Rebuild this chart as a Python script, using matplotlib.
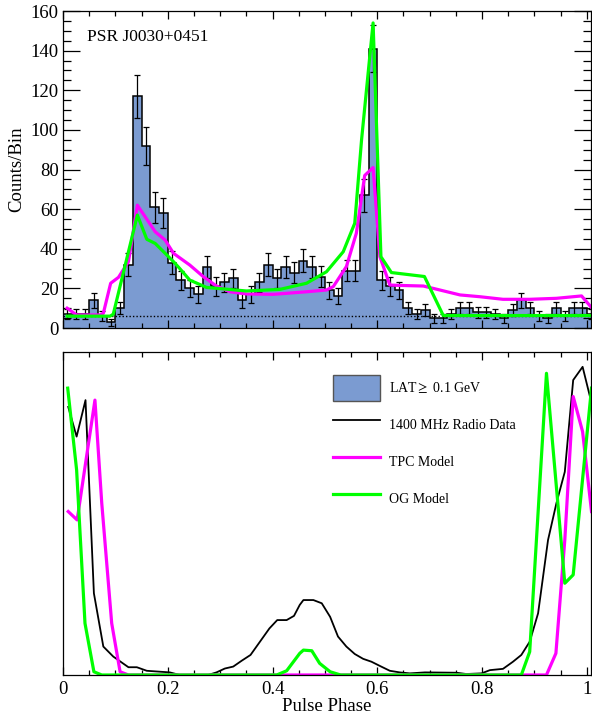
from matplotlib import pyplot as plt
from matplotlib.patches import Patch
from matplotlib.lines import Line2D
import numpy as np

plt.rcParams['font.family'] = ['Liberation Serif', 'DejaVu Serif']
plt.rcParams['mathtext.fontset'] = 'stix'

# LAT counts per bin (60 bins over one rotation)
counts = np.array([7, 7, 7, 14, 6, 3, 10, 32, 117, 92,
                   61, 58, 33, 24, 20, 17, 31, 21, 23, 25,
                   14, 17, 23, 32, 25, 31, 28, 34, 31, 26,
                   19, 16, 29, 29, 67, 141, 24, 21, 19, 10,
                   7, 9, 5, 5, 7, 10, 10, 8, 8, 7,
                   5, 9, 14, 10, 6, 5, 10, 6, 10, 10])
background = 6.3

# model light curves, top panel (counts/bin)
tpc_phase = [0.008, 0.026, 0.07, 0.077, 0.091, 0.106, 0.125, 0.142, 0.176, 0.195,
             0.211, 0.242, 0.268, 0.293, 0.319, 0.35, 0.401, 0.465, 0.503, 0.516,
             0.541, 0.56, 0.576, 0.592, 0.605, 0.624, 0.643, 0.688, 0.707, 0.758,
             0.796, 0.84, 0.891, 0.942, 0.99, 1.01]
tpc_counts = [10, 6.6, 6.6, 7.4, 22.6, 25.6, 33.5, 62, 48.6, 44.4,
              37.7, 31.8, 25.9, 21.2, 18.3, 17.2, 17, 18.3, 19.2, 20.9,
              31, 47.8, 77, 81, 36, 21.7, 21.5, 21.2, 20, 16.7,
              15.8, 14.5, 14.5, 15, 16.2, 10]

og_phase = [0.008, 0.09, 0.096, 0.142, 0.16, 0.176, 0.211, 0.223, 0.242, 0.274,
            0.35, 0.414, 0.465, 0.503, 0.535, 0.557, 0.57, 0.592, 0.607, 0.627,
            0.69, 0.726, 1.01]
og_counts = [6, 6, 7, 57, 44.8, 42.7, 33.5, 30, 24.2, 20.5,
             18.7, 19.5, 22.6, 28.4, 38.5, 52.9, 95, 154, 36, 28,
             26, 6.3, 6.3]

# bottom panel, normalised profiles
radio_phase = [0.010, 0.026, 0.043, 0.059, 0.077, 0.096, 0.125, 0.141, 0.16, 0.204,
               0.223, 0.277, 0.293, 0.309, 0.325, 0.341, 0.358, 0.376, 0.394, 0.409,
               0.427, 0.441, 0.452, 0.459, 0.478, 0.494, 0.51, 0.525, 0.541, 0.557,
               0.573, 0.589, 0.605, 0.624, 0.643, 0.662, 0.691, 0.751, 0.77, 0.799,
               0.815, 0.84, 0.859, 0.875, 0.891, 0.907, 0.926, 0.942, 0.958, 0.974,
               0.992, 1.006]
radio_flux = [0.83, 0.738, 0.851, 0.253, 0.088, 0.057, 0.024, 0.024, 0.013, 0.008,
              0.0, 0.0, 0.008, 0.02, 0.026, 0.044, 0.062, 0.103, 0.144, 0.17,
              0.17, 0.183, 0.217, 0.232, 0.232, 0.222, 0.18, 0.119, 0.088, 0.065,
              0.05, 0.041, 0.028, 0.013, 0.008, 0.005, 0.008, 0.007, 0.003, 0.005,
              0.015, 0.019, 0.041, 0.062, 0.103, 0.191, 0.418, 0.532, 0.629, 0.913,
              0.954, 0.862]

tpc2_phase = [0.010, 0.027, 0.061, 0.074, 0.093, 0.109, 0.125, 0.923, 0.941, 0.958,
              0.974, 0.992, 1.009]
tpc2_flux = [0.506, 0.48, 0.851, 0.532, 0.16, 0.01, 0.0, 0.0, 0.067, 0.418,
             0.862, 0.753, 0.506]

og2_phase = [0.009, 0.026, 0.042, 0.059, 0.074, 0.408, 0.427, 0.452, 0.459, 0.475,
             0.49, 0.51, 0.53, 0.875, 0.891, 0.923, 0.958, 0.974, 1.009]
og2_flux = [0.888, 0.635, 0.16, 0.01, 0.0, 0.0, 0.013, 0.067, 0.077, 0.075,
            0.036, 0.01, 0.0, 0.0, 0.072, 0.934, 0.284, 0.31, 0.888]

hist_color = '#7b9bd1'
tpc_color = '#ff00ff'
og_color = '#00ff00'

fig = plt.figure(figsize=(5.92, 7.17), dpi=100)
ax1 = fig.add_axes([0.1064, 0.5425, 0.8919, 0.4421])
ax2 = fig.add_axes([0.1064, 0.0586, 0.8919, 0.4505])

nb = len(counts)
c_wrap = np.concatenate([counts, counts[:1]])
edges = np.arange(nb + 2) / nb
centers = (edges[:-1] + edges[1:]) / 2

ax1.stairs(c_wrap, edges, fill=True, color=hist_color, lw=0)
ax1.stairs(c_wrap, edges, baseline=None, color='k', lw=1.1)
ax1.errorbar(centers, c_wrap, yerr=np.sqrt(c_wrap), fmt='none', ecolor='k',
             elinewidth=0.9, capsize=2, capthick=0.9)
ax1.axhline(background, color='k', lw=1.0, ls=(0, (1, 1.5)))
ax1.plot(tpc_phase, tpc_counts, color=tpc_color, lw=2.3)
ax1.plot(og_phase, og_counts, color=og_color, lw=2.3)

ax1.set_xlim(0, 1.008)
ax1.set_ylim(0, 160)
ax1.set_yticks(np.arange(0, 161, 20))
ax1.set_yticks(np.arange(0, 161, 5), minor=True)
ax1.set_xticks(np.arange(0, 1.01, 0.2))
ax1.set_xticks(np.arange(0, 1.01, 0.05), minor=True)
ax1.tick_params(axis='y', which='major', direction='in', left=True, right=True,
                length=12, width=0.9, labelsize=13.5, pad=3)
ax1.tick_params(axis='y', which='minor', direction='in', left=True, right=True,
                length=6, width=0.9)
ax1.tick_params(axis='x', which='both', direction='in', top=True, bottom=True,
                labelbottom=False, width=0.9)
ax1.tick_params(axis='x', which='major', length=6)
ax1.tick_params(axis='x', which='minor', length=3.5)
ax1.set_ylabel('Counts/Bin', fontsize=13.5, labelpad=4)
ax1.text(0.045, 0.918, 'PSR J0030+0451', transform=ax1.transAxes,
         fontsize=12.5, va='center', ha='left')

ax2.plot(radio_phase, radio_flux, color='k', lw=1.3)
ax2.plot(tpc2_phase, tpc2_flux, color=tpc_color, lw=2.3)
ax2.plot(og2_phase, og2_flux, color=og_color, lw=2.3)
ax2.set_xlim(0, 1.008)
ax2.set_ylim(0, 1)
ax2.set_yticks([])
ax2.set_xticks(np.arange(0, 1.01, 0.2))
ax2.set_xticks(np.arange(0, 1.01, 0.05), minor=True)
ax2.set_xticklabels(['0', '0.2', '0.4', '0.6', '0.8', '1'])
ax2.tick_params(axis='x', which='both', direction='in', top=True, bottom=True,
                width=0.9, labelsize=13.5, pad=4)
ax2.tick_params(axis='x', which='major', length=6)
ax2.tick_params(axis='x', which='minor', length=3.5)
ax2.set_xlabel('Pulse Phase', fontsize=13.5, labelpad=0)

for ax in (ax1, ax2):
    for s in ax.spines.values():
        s.set_linewidth(0.9)

handles = [Patch(facecolor=hist_color, edgecolor='#555555', lw=1.0),
           Line2D([], [], color='k', lw=1.3),
           Line2D([], [], color=tpc_color, lw=2.3),
           Line2D([], [], color=og_color, lw=2.3)]
labels = [r'LAT$\geq$ 0.1 GeV', '1400 MHz Radio Data', 'TPC Model', 'OG Model']
ax2.legend(handles, labels, loc='upper left', bbox_to_anchor=(0.511, 0.929),
           frameon=False, fontsize=10, handlelength=3.4, handleheight=2.5,
           labelspacing=0.78, handletextpad=0.65, borderpad=0, borderaxespad=0)

fig.savefig('out.png', dpi=100)
